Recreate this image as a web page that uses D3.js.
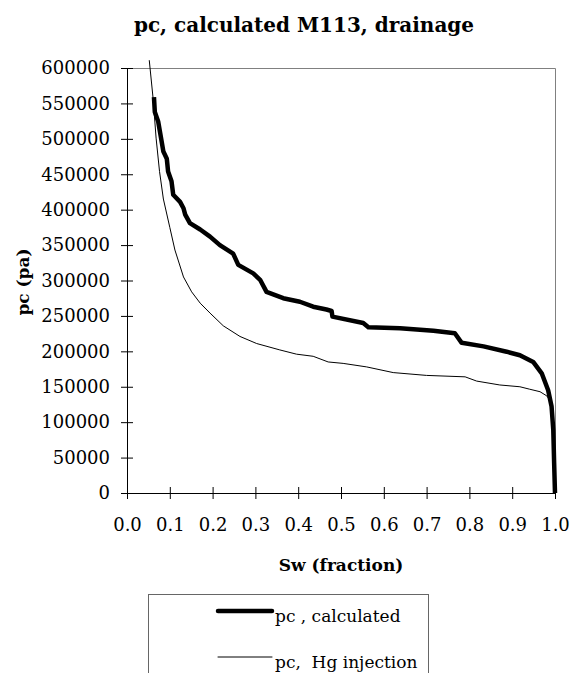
<!DOCTYPE html>
<html>
<head>
<meta charset="utf-8">
<script src="https://cdn.jsdelivr.net/npm/d3@7"></script>
<style>
  body { margin: 0; background: #fff; }
  text { font-family: "DejaVu Serif", serif; fill: #000; }
</style>
</head>
<body>
<svg id="chart" width="577" height="673"></svg>
<script>
// pc, calculated (Sw fraction, pc in pa)
var calcSw = [0.063, 0.065, 0.073, 0.081, 0.085, 0.093, 0.096, 0.104, 0.108, 0.124, 0.132, 0.136, 0.147, 0.171, 0.194, 0.217, 0.248, 0.260, 0.295, 0.311, 0.326, 0.365, 0.404, 0.435, 0.466, 0.478, 0.480, 0.552, 0.564, 0.638, 0.716, 0.766, 0.782, 0.833, 0.887, 0.918, 0.949, 0.969, 0.984, 0.992, 0.996, 0.998, 1.000];
var calcPc = [559000, 538000, 524000, 496000, 482000, 472000, 454000, 440000, 421000, 411000, 402000, 393000, 381000, 372000, 362000, 350000, 338000, 322000, 310000, 301000, 284000, 275000, 270000, 263000, 259000, 257000, 249000, 240000, 234000, 232500, 229000, 225500, 212000, 207000, 199500, 194500, 185000, 169000, 145000, 122000, 89000, 42000, 0];

// pc, Hg injection
var hgSw = [0.052, 0.061, 0.068, 0.076, 0.085, 0.100, 0.112, 0.132, 0.151, 0.171, 0.194, 0.225, 0.264, 0.303, 0.357, 0.396, 0.435, 0.470, 0.505, 0.560, 0.622, 0.700, 0.790, 0.817, 0.871, 0.918, 0.941, 0.965, 0.981, 0.988, 0.993, 0.996, 0.998, 1.000];
var hgPc = [611000, 557000, 501000, 454000, 415000, 375000, 343000, 305000, 284000, 268000, 254000, 236000, 221000, 211000, 202000, 196000, 193000, 185000, 183000, 178000, 170000, 166000, 164000, 158000, 152500, 150000, 146500, 143000, 137000, 131000, 115000, 89000, 42000, 0];

var xTicks = [0, 0.1, 0.2, 0.3, 0.4, 0.5, 0.6, 0.7, 0.8, 0.9, 1.0];
var yTicks = [0, 50000, 100000, 150000, 200000, 250000, 300000, 350000, 400000, 450000, 500000, 550000, 600000];

var svg = d3.select("#chart"),
    plotL = 127, plotR = 555, plotT = 68, plotB = 493;

var x = d3.scaleLinear().domain([0, 1]).range([plotL, plotR]);
var y = d3.scaleLinear().domain([0, 600000]).range([plotB, plotT]);

// title
svg.append("text")
  .attr("x", 304).attr("y", 32)
  .attr("text-anchor", "middle")
  .style("font-size", "20px").style("font-weight", "bold")
  .text("pc, calculated M113, drainage");

// plot frame (top and right edges grey)
svg.append("path")
  .attr("d", "M" + plotL + "," + (plotT + 0.5) + "H" + (plotR + 0.5) + "V" + plotB)
  .attr("fill", "none").attr("stroke", "#808080").attr("stroke-width", 1);

// axes
var xAxis = svg.append("g")
  .attr("transform", "translate(0," + plotB + ")")
  .call(d3.axisBottom(x).tickValues(xTicks).tickFormat(d3.format(".1f")).tickSizeInner(6).tickSizeOuter(0).tickPadding(19));
var yAxis = svg.append("g")
  .attr("transform", "translate(" + plotL + ",0)")
  .call(d3.axisLeft(y).tickValues(yTicks).tickFormat(d3.format("d")).tickSizeInner(6).tickSizeOuter(0).tickPadding(11));

[xAxis, yAxis].forEach(function(a) {
  a.selectAll("text").style("font-size", "18px").style("font-family", "'DejaVu Serif', serif");
  a.select(".domain").attr("stroke", "#000");
});
// ticks cross the axis
xAxis.selectAll(".tick line").attr("y1", -6).attr("y2", 6).attr("stroke", "#000");
yAxis.selectAll(".tick line").attr("x1", 6).attr("x2", -6).attr("stroke", "#000");

// axis titles
svg.append("text")
  .attr("x", 341).attr("y", 571)
  .attr("text-anchor", "middle")
  .style("font-size", "17px").style("font-weight", "bold")
  .text("Sw (fraction)");
svg.append("text")
  .attr("transform", "translate(29,282) rotate(-90)")
  .attr("text-anchor", "middle")
  .style("font-size", "17px").style("font-weight", "bold")
  .text("pc (pa)");

var line = d3.line()
  .x(function(d) { return x(d[0]); })
  .y(function(d) { return y(d[1]); });

var hg = hgSw.map(function(s, i) { return [s, hgPc[i]]; });
var calc = calcSw.map(function(s, i) { return [s, calcPc[i]]; });

svg.append("path").datum(hg)
  .attr("d", line).attr("fill", "none")
  .attr("stroke", "#000").attr("stroke-width", 1);
svg.append("path").datum(calc)
  .attr("d", line).attr("fill", "none")
  .attr("stroke", "#000").attr("stroke-width", 4.5)
  .attr("stroke-linejoin", "round");

// legend
var lg = svg.append("g");
lg.append("rect")
  .attr("x", 148.5).attr("y", 594.5).attr("width", 280).attr("height", 100)
  .attr("fill", "#fff").attr("stroke", "#666");
var items = [
  { label: "pc , calculated", w: 4.5, y: 611 },
  { label: "pc,  Hg injection", w: 1, y: 657 }
];
items.forEach(function(it) {
  lg.append("line")
    .attr("x1", 218).attr("x2", 272).attr("y1", it.y).attr("y2", it.y)
    .attr("stroke", "#000").attr("stroke-width", it.w).attr("stroke-linecap", "round");
  lg.append("text")
    .attr("x", 275).attr("y", it.y + 11)
    .style("font-size", "17px")
    .style("white-space", "pre")
    .text(it.label);
});
</script>
</body>
</html>
